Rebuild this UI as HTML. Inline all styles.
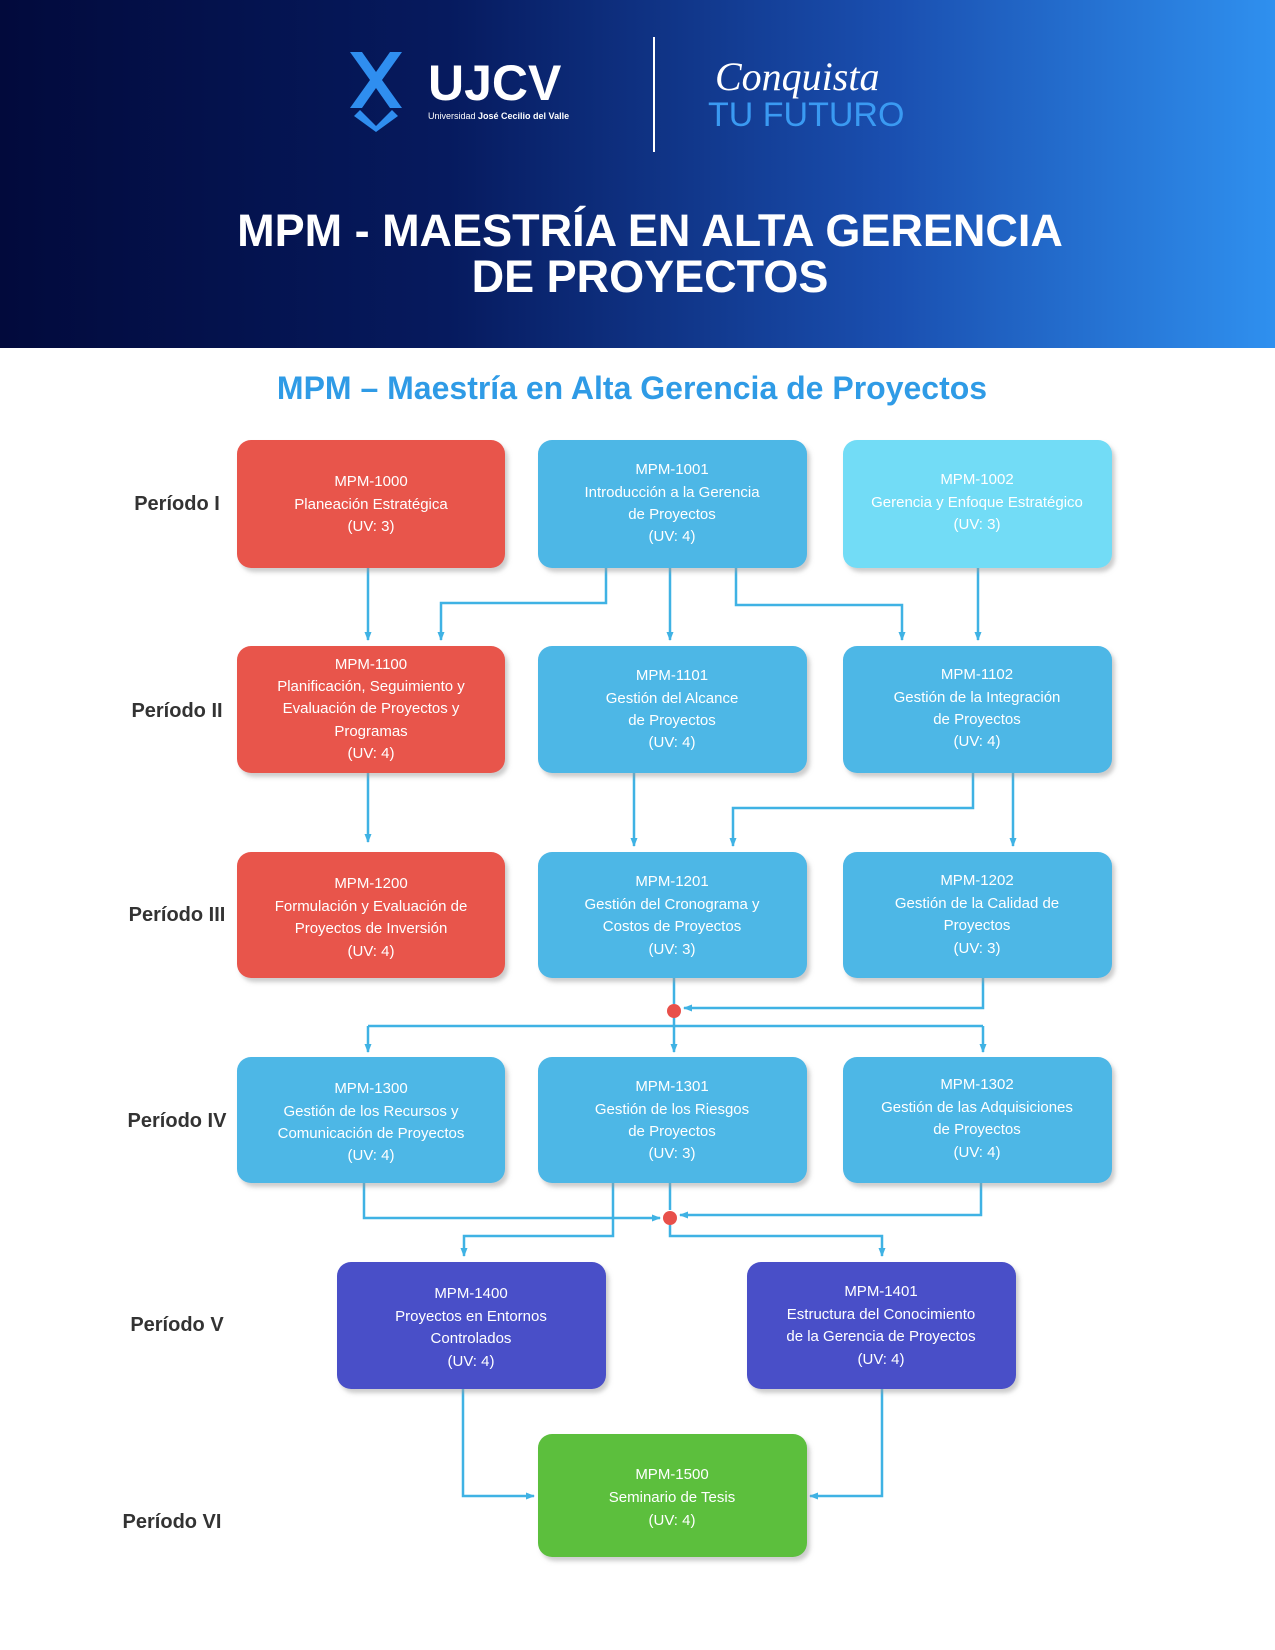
<!DOCTYPE html>
<html><head><meta charset="utf-8"><style>
body{margin:0;width:1275px;height:1650px;background:#fff;overflow:hidden;font-family:"Liberation Sans",sans-serif}
.hdr{position:absolute;left:0;top:0;width:1275px;height:348px;background:linear-gradient(90deg,#020a3c 0%,#061a5e 35%,#1a4fb0 70%,#2f90ef 100%)}
</style></head><body>
<div class="hdr"></div>
<svg width="1275" height="1650" style="position:absolute;left:0;top:0" xmlns="http://www.w3.org/2000/svg">
<defs>
<marker id="a" markerUnits="userSpaceOnUse" markerWidth="10" markerHeight="10" refX="8" refY="5" orient="auto"><path d="M0,1.5 L9,5 L0,8.5 z" fill="#3fb2e4"/></marker>
<filter id="s"><feDropShadow dx="3" dy="4" stdDeviation="2" flood-color="#999" flood-opacity="0.5"/></filter>
</defs>
<g fill="#2f8ef0">
<path d="M350,52 l12,0 l14,20 l14,-20 l12,0 l-20,28 l20,28 l-12,0 l-14,-20 l-14,20 l-12,0 l20,-28 z"/>
<path d="M360,110 l16,16 l16,-16 l6,6 l-22,16 l-22,-16z"/>
</g>
<text x="428" y="100" fill="#fff" font-size="50" font-weight="bold" font-family="Liberation Sans,sans-serif">UJCV</text>
<text x="428" y="119" fill="#fff" font-size="9" font-family="Liberation Sans,sans-serif">Universidad <tspan font-weight="bold">José Cecilio del Valle</tspan></text>
<line x1="654" y1="37" x2="654" y2="152" stroke="#fff" stroke-width="2"/>
<text x="715" y="90" fill="#fff" font-size="40" font-style="italic" font-family="Liberation Serif,serif">Conquista</text>
<text x="708" y="126" fill="#3a9af2" font-size="34" font-family="Liberation Sans,sans-serif">TU FUTURO</text>
<g fill="#fff" font-size="45" font-weight="bold" text-anchor="middle" font-family="Liberation Sans,sans-serif">
<text x="650" y="246">MPM - MAESTRÍA EN ALTA GERENCIA</text>
<text x="650" y="292">DE PROYECTOS</text>
</g>
<text x="632" y="399" fill="#2f9be6" font-size="32" font-weight="bold" text-anchor="middle" font-family="Liberation Sans,sans-serif">MPM – Maestría en Alta Gerencia de Proyectos</text>
<g fill="#333" font-size="20" font-weight="bold" text-anchor="middle" font-family="Liberation Sans,sans-serif">
<text x="177" y="510">Período I</text><text x="177" y="717">Período II</text><text x="177" y="921">Período III</text>
<text x="177" y="1127">Período IV</text><text x="177" y="1331">Período V</text><text x="172" y="1528">Período VI</text>
</g>
<g stroke="#3fb2e4" stroke-width="2.5" fill="none">
<path d="M368,568 V640" marker-end="url(#a)"/>
<path d="M606,568 V603 H441 V640" marker-end="url(#a)"/>
<path d="M670,568 V640" marker-end="url(#a)"/>
<path d="M736,568 V605 H902 V640" marker-end="url(#a)"/>
<path d="M978,568 V640" marker-end="url(#a)"/>
<path d="M368,773 V842" marker-end="url(#a)"/>
<path d="M634,773 V846" marker-end="url(#a)"/>
<path d="M973,773 V808 H733 V846" marker-end="url(#a)"/>
<path d="M1013,773 V846" marker-end="url(#a)"/>
<path d="M674,978 V1004"/>
<path d="M983,978 V1008 H684" marker-end="url(#a)"/>
<path d="M368,1026 H983"/>
<path d="M368,1026 V1052" marker-end="url(#a)"/>
<path d="M674,1011 V1052" marker-end="url(#a)"/>
<path d="M983,1026 V1052" marker-end="url(#a)"/>
<path d="M364,1183 V1218 H660" marker-end="url(#a)"/>
<path d="M981,1183 V1215 H680" marker-end="url(#a)"/>
<path d="M670,1183 V1210"/>
<path d="M613,1183 V1236 H464 V1256" marker-end="url(#a)"/>
<path d="M670,1218 V1236 H882 V1256" marker-end="url(#a)"/>
<path d="M463,1389 V1496 H534" marker-end="url(#a)"/>
<path d="M882,1389 V1496 H810" marker-end="url(#a)"/>
</g>
<circle cx="674" cy="1011" r="7" fill="#e8504a"/>
<circle cx="670" cy="1218" r="7" fill="#e8504a"/>
<g filter="url(#s)">
<rect x="237" y="440" width="268" height="128" rx="14" fill="#e8544c"/>
<rect x="538" y="440" width="269" height="128" rx="14" fill="#4db7e6"/>
<rect x="843" y="440" width="269" height="128" rx="14" fill="#72dcf6"/>
<rect x="237" y="646" width="268" height="127" rx="14" fill="#e8544c"/>
<rect x="538" y="646" width="269" height="127" rx="14" fill="#4db7e6"/>
<rect x="843" y="646" width="269" height="127" rx="14" fill="#4db7e6"/>
<rect x="237" y="852" width="268" height="126" rx="14" fill="#e8544c"/>
<rect x="538" y="852" width="269" height="126" rx="14" fill="#4db7e6"/>
<rect x="843" y="852" width="269" height="126" rx="14" fill="#4db7e6"/>
<rect x="237" y="1057" width="268" height="126" rx="14" fill="#4db7e6"/>
<rect x="538" y="1057" width="269" height="126" rx="14" fill="#4db7e6"/>
<rect x="843" y="1057" width="269" height="126" rx="14" fill="#4db7e6"/>
<rect x="337" y="1262" width="269" height="127" rx="14" fill="#4a4fc8"/>
<rect x="747" y="1262" width="269" height="127" rx="14" fill="#4a4fc8"/>
<rect x="538" y="1434" width="269" height="123" rx="14" fill="#5cbf3e"/>
</g>
<g fill="#fff" font-size="15" text-anchor="middle" font-family="Liberation Sans,sans-serif">
<text x="371" y="486">MPM-1000</text><text x="371" y="509">Planeación Estratégica</text><text x="371" y="531">(UV: 3)</text>
<text x="672" y="474">MPM-1001</text><text x="672" y="497">Introducción a la Gerencia</text><text x="672" y="519">de Proyectos</text><text x="672" y="541">(UV: 4)</text>
<text x="977" y="484">MPM-1002</text><text x="977" y="507">Gerencia y Enfoque Estratégico</text><text x="977" y="529">(UV: 3)</text>
<text x="371" y="669">MPM-1100</text><text x="371" y="691">Planificación, Seguimiento y</text><text x="371" y="713">Evaluación de Proyectos y</text><text x="371" y="736">Programas</text><text x="371" y="758">(UV: 4)</text>
<text x="672" y="680">MPM-1101</text><text x="672" y="703">Gestión del Alcance</text><text x="672" y="725">de Proyectos</text><text x="672" y="747">(UV: 4)</text>
<text x="977" y="679">MPM-1102</text><text x="977" y="702">Gestión  de la Integración</text><text x="977" y="724">de Proyectos</text><text x="977" y="746">(UV: 4)</text>
<text x="371" y="888">MPM-1200</text><text x="371" y="911">Formulación y Evaluación de</text><text x="371" y="933">Proyectos de Inversión</text><text x="371" y="956">(UV: 4)</text>
<text x="672" y="886">MPM-1201</text><text x="672" y="909">Gestión del Cronograma y</text><text x="672" y="931">Costos de Proyectos</text><text x="672" y="954">(UV: 3)</text>
<text x="977" y="885">MPM-1202</text><text x="977" y="908">Gestión de la Calidad de</text><text x="977" y="930">Proyectos</text><text x="977" y="953">(UV: 3)</text>
<text x="371" y="1093">MPM-1300</text><text x="371" y="1116">Gestión de los Recursos y</text><text x="371" y="1138">Comunicación de Proyectos</text><text x="371" y="1160">(UV: 4)</text>
<text x="672" y="1091">MPM-1301</text><text x="672" y="1114">Gestión de los Riesgos</text><text x="672" y="1136">de Proyectos</text><text x="672" y="1158">(UV: 3)</text>
<text x="977" y="1089">MPM-1302</text><text x="977" y="1112">Gestión de las Adquisiciones</text><text x="977" y="1134">de Proyectos</text><text x="977" y="1157">(UV: 4)</text>
<text x="471" y="1298">MPM-1400</text><text x="471" y="1321">Proyectos en Entornos</text><text x="471" y="1343">Controlados</text><text x="471" y="1366">(UV: 4)</text>
<text x="881" y="1296">MPM-1401</text><text x="881" y="1319">Estructura del Conocimiento</text><text x="881" y="1341">de la Gerencia de Proyectos</text><text x="881" y="1364">(UV: 4)</text>
<text x="672" y="1479">MPM-1500</text><text x="672" y="1502">Seminario de Tesis</text><text x="672" y="1525">(UV: 4)</text>
</g>
</svg>
</body></html>
